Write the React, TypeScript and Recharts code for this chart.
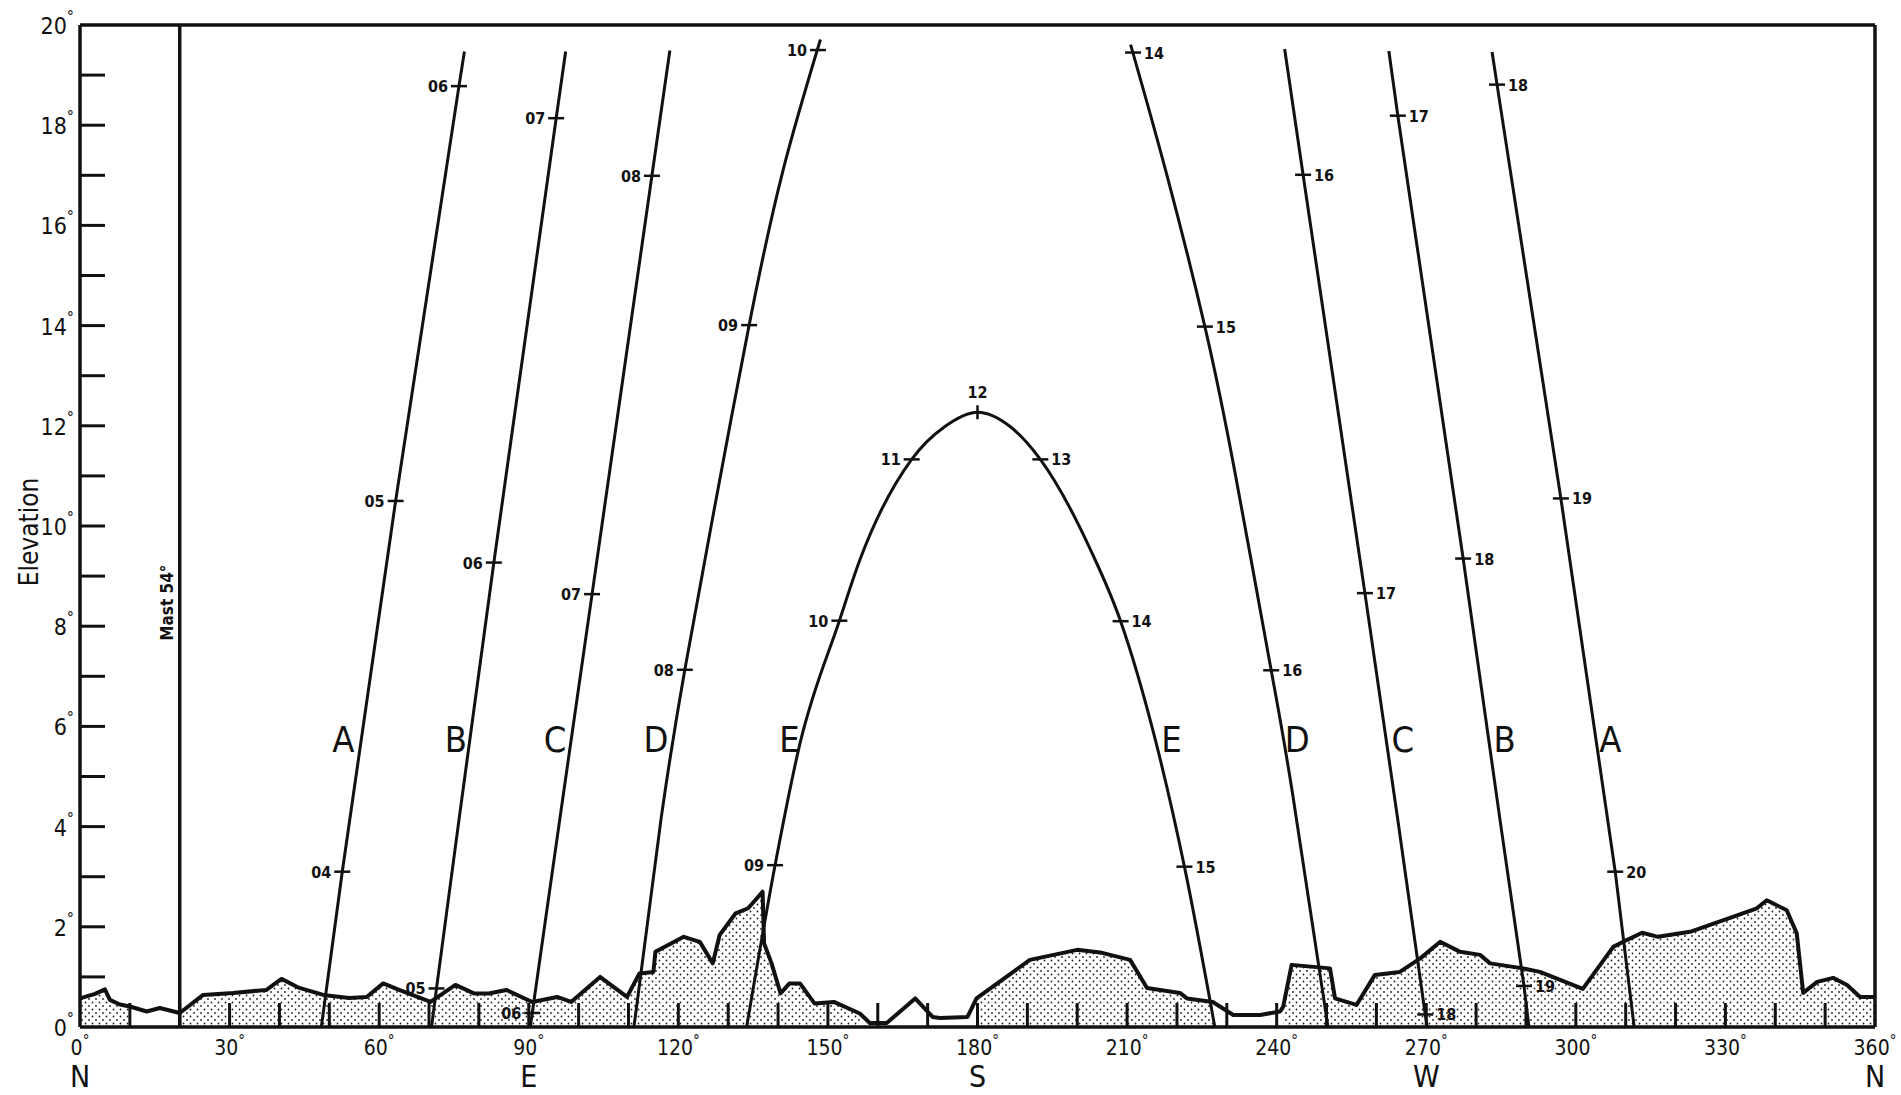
import { ComposedChart, XAxis, YAxis, Line, Area, Scatter, ReferenceLine } from 'recharts';

const FONT = "'DejaVu Sans Condensed', 'Liberation Sans Narrow', 'DejaVu Sans', sans-serif";
const INK = '#111';

// horizon profile: [azimuth °, elevation °]
const horizon: [number, number][] = [
  [0, 0.57], [3, 0.66], [5, 0.75], [6, 0.54], [8, 0.45], [10, 0.41], [13.4, 0.31], [16, 0.38], [20, 0.28],
  [24.7, 0.64], [30.7, 0.68], [37.4, 0.74], [40.4, 0.96], [44, 0.78], [48.8, 0.64], [54, 0.58], [57.5, 0.6],
  [60.8, 0.87], [64, 0.74], [70.3, 0.5], [75.3, 0.84], [79, 0.67], [82, 0.67], [85.5, 0.74], [90.7, 0.5],
  [95.7, 0.6], [98.5, 0.5], [104.3, 1.0], [109.7, 0.6], [112.2, 1.07], [115, 1.1], [115.4, 1.5], [121.1, 1.8],
  [124.3, 1.7], [126.9, 1.27], [128.3, 1.84], [131.5, 2.27], [134, 2.37], [136.9, 2.7], [137.2, 1.67],
  [138.7, 1.27], [140.5, 0.67], [142.3, 0.87], [144.4, 0.87], [147.3, 0.47], [151.2, 0.5], [156.4, 0.27],
  [158.4, 0.08], [161.8, 0.08], [167.5, 0.57], [171, 0.2], [172.5, 0.18], [178, 0.2], [179.8, 0.57],
  [183, 0.8], [190.5, 1.34], [200, 1.54], [205, 1.48], [210.6, 1.34], [214, 0.78], [220.6, 0.68], [222, 0.57],
  [227.2, 0.5], [231.3, 0.24], [236.7, 0.24], [240.7, 0.31], [241.3, 0.4], [243, 1.24], [250.7, 1.17],
  [251.7, 0.57], [256, 0.44], [259.7, 1.04], [264.7, 1.1], [268.8, 1.37], [272.8, 1.7], [276.8, 1.5],
  [280.8, 1.44], [282.8, 1.27], [289.4, 1.17], [292.8, 1.1], [301.4, 0.76], [307.5, 1.6], [310.3, 1.74],
  [313.3, 1.88], [316.5, 1.8], [322.9, 1.9], [331.5, 2.2], [336.3, 2.37], [338.3, 2.53], [342.3, 2.33],
  [344.3, 1.87], [345.6, 0.68], [348.4, 0.9], [351.6, 0.98], [354.4, 0.84], [357, 0.6], [360, 0.6],
];

// stretches of the horizon that are left unshaded in the original
const unshaded: [number, number][] = [[11, 19], [157, 179], [228, 241]];

// sun paths (morning / evening) per date curve A..E
const pathA_am: [number, number][] = [[48.4, 0], [52.6, 3.1], [63.3, 10.5], [76.0, 18.78], [77.1, 19.47]];
const pathB_am: [number, number][] = [[70.5, 0], [71.5, 0.77], [76.0, 4.13], [83.0, 9.27], [95.5, 18.14], [97.4, 19.47]];
const pathC_am: [number, number][] = [[90.3, 0], [90.7, 0.28], [96.2, 4.13], [102.7, 8.64], [114.7, 16.99], [118.3, 19.49]];
const pathD_am: [number, number][] = [[111.1, 0], [116.5, 4.13], [121.3, 7.13], [126.8, 10.12], [134.2, 14.01], [141.0, 17.1], [148.5, 19.71]];
const pathE: [number, number][] = [
  [133.7, 0], [139.4, 3.23], [144.4, 5.66], [152.3, 8.11], [156.4, 9.32], [166.8, 11.33], [173.4, 11.98],
  [180, 12.27], [186.6, 11.98], [192.6, 11.33], [202.6, 9.54], [208.7, 8.1], [215.8, 5.68], [221.5, 3.2], [227.6, 0],
];
const pathD_pm: [number, number][] = [[210.7, 19.61], [218.0, 17.0], [225.6, 13.98], [231.6, 11.09], [238.9, 7.12], [243.2, 4.65], [250.3, 0]];
const pathC_pm: [number, number][] = [[241.6, 19.52], [245.3, 17.01], [257.7, 8.66], [264.3, 4.13], [269.8, 0.25], [270.2, 0]];
const pathB_pm: [number, number][] = [[262.5, 19.48], [264.3, 18.19], [277.4, 9.35], [284.8, 4.13], [289.6, 0.82], [290.6, 0]];
const pathA_pm: [number, number][] = [[283.2, 19.46], [284.2, 18.81], [297.0, 10.55], [307.9, 3.1], [311.7, 0]];

const straightPaths = [pathA_am, pathB_am, pathC_am, pathC_pm, pathB_pm, pathA_pm];
const bentPaths = [pathD_am, pathD_pm];

// hour marks: [az, el, hour, label side]
const hourMarks: [number, number, string, string][] = [
  [52.6, 3.1, '04', 'l'], [63.3, 10.5, '05', 'l'], [76.0, 18.78, '06', 'l'],
  [71.5, 0.77, '05', 'l'], [83.0, 9.27, '06', 'l'], [95.5, 18.14, '07', 'l'],
  [90.7, 0.28, '06', 'l'], [102.7, 8.64, '07', 'l'], [114.7, 16.99, '08', 'l'],
  [121.3, 7.13, '08', 'l'], [134.2, 14.01, '09', 'l'], [148.0, 19.5, '10', 'l'],
  [139.4, 3.23, '09', 'l'], [152.3, 8.11, '10', 'l'], [166.8, 11.33, '11', 'l'], [180, 12.27, '12', 't'],
  [192.6, 11.33, '13', 'r'], [208.7, 8.1, '14', 'r'], [221.5, 3.2, '15', 'r'],
  [211.2, 19.45, '14', 'r'], [225.6, 13.98, '15', 'r'], [238.9, 7.12, '16', 'r'],
  [245.3, 17.01, '16', 'r'], [257.7, 8.66, '17', 'r'], [269.8, 0.25, '18', 'r'],
  [264.3, 18.19, '17', 'r'], [277.4, 9.35, '18', 'r'], [289.6, 0.82, '19', 'r'],
  [284.2, 18.81, '18', 'r'], [297.0, 10.55, '19', 'r'], [307.9, 3.1, '20', 'r'],
];

// curve letters: [az, el, letter]
const curveLetters: [number, number, string][] = [
  [52.8, 5.74, 'A'], [75.4, 5.74, 'B'], [95.3, 5.74, 'C'], [115.5, 5.74, 'D'], [142.3, 5.74, 'E'],
  [218.9, 5.74, 'E'], [244.1, 5.74, 'D'], [265.3, 5.74, 'C'], [285.7, 5.74, 'B'], [306.9, 5.74, 'A'],
];

const AZ_TICKS = [0, 10, 20, 30, 40, 50, 60, 70, 80, 90, 100, 110, 120, 130, 140, 150, 160, 170, 180,
  190, 200, 210, 220, 230, 240, 250, 260, 270, 280, 290, 300, 310, 320, 330, 340, 350, 360];
const EL_TICKS = [0, 1, 2, 3, 4, 5, 6, 7, 8, 9, 10, 11, 12, 13, 14, 15, 16, 17, 18, 19, 20];
const COMPASS: Record<number, string> = { 0: 'N', 90: 'E', 180: 'S', 270: 'W', 360: 'N' };
const MAST_AZ = 20;

const toPts = (arr: [number, number][]) => arr.map(([az, el]) => ({ az, el }));

function AzTick(props: any) {
  const { x, y, payload } = props;
  const v = payload.value;
  return (
    <g>
      {v % 360 !== 0 && <line x1={x} x2={x} y1={y} y2={y - 24} stroke={INK} strokeWidth={3} />}
      {v % 30 === 0 && (
        <text x={x} y={y + 28} textAnchor="middle" fontFamily={FONT} fontSize={21} fill={INK}>
          {v}
          <tspan fontSize={15} dy={-9}>°</tspan>
        </text>
      )}
      {COMPASS[v] && (
        <text x={x} y={y + 60} textAnchor="middle" fontFamily={FONT} fontSize={30} fill={INK}>
          {COMPASS[v]}
        </text>
      )}
    </g>
  );
}

function ElTick(props: any) {
  const { x, y, payload } = props;
  const v = payload.value;
  return (
    <g>
      {v % 20 !== 0 && <line x1={x} x2={x + 25} y1={y} y2={y} stroke={INK} strokeWidth={3} />}
      {v % 2 === 0 && (
        <text x={x - 6} y={y + 9} textAnchor="end" fontFamily={FONT} fontSize={23} fill={INK}>
          {v}
          <tspan fontSize={16} dy={-12}>°</tspan>
        </text>
      )}
    </g>
  );
}

function HourMark(props: any) {
  const { cx, cy, payload } = props;
  const txt = { fontFamily: FONT, fontSize: 16, fontWeight: 700, fill: INK };
  if (payload.side === 't') {
    return (
      <g>
        <line x1={cx} x2={cx} y1={cy - 7} y2={cy + 7} stroke={INK} strokeWidth={2.5} />
        <text x={cx} y={cy - 14} textAnchor="middle" {...txt}>{payload.h}</text>
      </g>
    );
  }
  const left = payload.side === 'l';
  return (
    <g>
      <line x1={cx - 8} x2={cx + 8} y1={cy} y2={cy} stroke={INK} strokeWidth={2.5} />
      <text x={left ? cx - 11 : cx + 11} y={cy + 6} textAnchor={left ? 'end' : 'start'} {...txt}>{payload.h}</text>
    </g>
  );
}

function Letter(props: any) {
  const { cx, cy, payload } = props;
  return (
    <text x={cx} y={cy + 13} textAnchor="middle" fontFamily={FONT} fontSize={36} fill={INK}>
      {payload.letter}
    </text>
  );
}

export default function App() {
  const hourPts = hourMarks.map(([az, el, h, side]) => ({ az, el, h, side }));
  const letterPts = curveLetters.map(([az, el, letter]) => ({ az, el, letter }));
  const shaded = horizon.map(([az, el]) => ({
    az,
    el: unshaded.some(([a, b]) => az > a && az < b) ? null : el,
  }));
  const lineProps = {
    dataKey: 'el',
    stroke: INK,
    strokeWidth: 3,
    dot: false,
    activeDot: false,
    isAnimationActive: false,
  } as const;
  return (
    <div style={{ position: 'absolute', left: 0, top: 0, width: 1901, height: 1095, background: '#fff' }}>
      <ComposedChart width={1901} height={1095} margin={{ top: 25, right: 26, bottom: 0, left: 0 }}>
        <defs>
          <pattern id="dots" width="7" height="7" patternUnits="userSpaceOnUse">
            <circle cx="1.5" cy="1.5" r="0.9" fill="#222" />
            <circle cx="5" cy="5" r="0.9" fill="#222" />
          </pattern>
        </defs>
        <XAxis
          type="number"
          dataKey="az"
          domain={[0, 360]}
          ticks={AZ_TICKS}
          interval={0}
          height={68}
          tickSize={0}
          tickMargin={0}
          tickLine={false}
          axisLine={{ stroke: INK, strokeWidth: 3.5 }}
          tick={AzTick}
        />
        <YAxis
          type="number"
          dataKey="el"
          domain={[0, 20]}
          ticks={EL_TICKS}
          interval={0}
          width={80}
          tickSize={0}
          tickMargin={0}
          tickLine={false}
          axisLine={{ stroke: INK, strokeWidth: 3.5 }}
          tick={ElTick}
          label={(p: any) => {
            const vb = p.viewBox || { y: 25, height: 1002 };
            const cy = vb.y + vb.height / 2 + 6;
            return (
              <text transform={`translate(29, ${cy}) rotate(-90)`} textAnchor="middle" dominantBaseline="central"
                fontFamily={FONT} fontSize={26} fill={INK}>
                Elevation
              </text>
            );
          }}
        />
        {/* dotted ground fill, then the horizon outline on top */}
        <Area
          data={shaded}
          dataKey="el"
          type="linear"
          stroke="none"
          fill="url(#dots)"
          fillOpacity={1}
          dot={false}
          activeDot={false}
          isAnimationActive={false}
        />
        <Area
          data={toPts(horizon)}
          dataKey="el"
          type="linear"
          stroke={INK}
          strokeWidth={4}
          strokeLinejoin="round"
          fill="none"
          dot={false}
          activeDot={false}
          isAnimationActive={false}
        />
        <ReferenceLine y={20} stroke={INK} strokeWidth={3.5} />
        <ReferenceLine x={360} stroke={INK} strokeWidth={3.5} />
        <ReferenceLine
          x={MAST_AZ}
          stroke={INK}
          strokeWidth={3.5}
          label={(p: any) => {
            const vb = p.viewBox;
            const cx = vb.x - 13;
            const cy = vb.y + vb.height * (1 - 8.47 / 20);
            return (
              <text transform={`translate(${cx}, ${cy}) rotate(-90)`} textAnchor="middle" dominantBaseline="central"
                fontFamily={FONT} fontSize={17} fontWeight={700} fill={INK}>
                Mast 54°
              </text>
            );
          }}
        />
        {straightPaths.map((path, i) => (
          <Line key={`s${i}`} data={toPts(path)} type="linear" {...lineProps} />
        ))}
        {bentPaths.map((path, i) => (
          <Line key={`b${i}`} data={toPts(path)} type="natural" {...lineProps} />
        ))}
        <Line data={toPts(pathE)} type="monotone" {...lineProps} />
        <Scatter data={hourPts} shape={HourMark} isAnimationActive={false} />
        <Scatter data={letterPts} shape={Letter} isAnimationActive={false} />
      </ComposedChart>
    </div>
  );
}
